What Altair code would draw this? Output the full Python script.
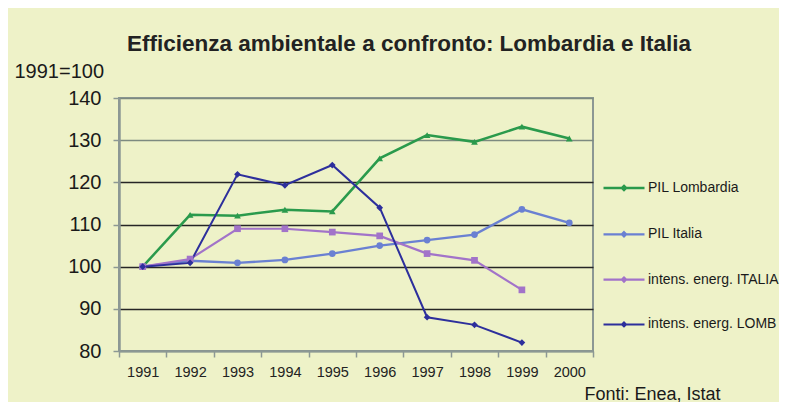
import altair as alt
import pandas as pd

anni = ["1991", "1992", "1993", "1994", "1995", "1996", "1997", "1998", "1999", "2000"]
serie = ["PIL Lombardia", "PIL Italia", "intens. energ. ITALIA", "intens. energ. LOMB"]
pil_lombardia = [100, 112.3, 112.1, 113.5, 113.1, 125.7, 131.2, 129.6, 133.2, 130.4]
pil_italia = [100, 101.4, 100.9, 101.6, 103.1, 105.0, 106.3, 107.6, 113.6, 110.4]
intens_italia = [100, 101.8, 109.0, 109.0, 108.2, 107.3, 103.1, 101.5, 94.5]
intens_lomb = [100, 100.9, 121.9, 119.3, 124.1, 114.0, 88.0, 86.2, 82.0]
colori = ["#2a9a4c", "#6a80d2", "#a273c9", "#2d2f9c"]
forme = ["triangle-up", "circle", "square", "diamond"]
spessori = [2.5, 2, 2.5, 3]
dimensioni = [45, 45, 20, 40]
y_ticks = [80, 90, 100, 110, 120, 130, 140]

marker_keys = ["m:" + s for s in serie]

rows = []
for nome, chiave, valori in zip(serie, marker_keys, [pil_lombardia, pil_italia, intens_italia, intens_lomb]):
    for a, v in zip(anni, valori):
        rows.append({"anno": a, "serie": nome, "marker": chiave, "valore": v})
df = pd.DataFrame(rows)

FONT = "Liberation Sans"
BG = "#eef2c8"
GREY = "#8c9894"
# legend symbol: a short line with a small marker in its middle
LEGEND_SYMBOL = "M-1,0H1M0,-0.1L0.1,0L0,0.1L-0.1,0Z"

x_enc = alt.X(
    "anno:N",
    sort=anni,
    scale=alt.Scale(type="band", paddingInner=0, paddingOuter=0),
    axis=alt.Axis(
        title="Fonti: Enea, Istat",
        titleX=465, titleY=48, titleAlign="left", titleBaseline="alphabetic",
        titleFontSize=18, titleFontWeight="normal", titleFont=FONT, titleColor="#1a1a1a",
        labelAngle=0, labelFontSize=14.5, labelFont=FONT, labelColor="#222",
        labelPadding=8, tickBand="extent", tickSize=6, tickColor=GREY, tickWidth=1.5,
        domainColor=GREY, domainWidth=2, grid=False,
    ),
)
y_enc = alt.Y(
    "valore:Q",
    scale=alt.Scale(domain=[80, 140], nice=False, zero=False),
    axis=alt.Axis(
        values=y_ticks,
        title="1991=100",
        titleAngle=0, titleX=-105, titleY=-21, titleAlign="left", titleBaseline="alphabetic",
        titleFontSize=20, titleFontWeight="normal", titleFont=FONT, titleColor="#1a1a1a",
        labelFontSize=20, labelFont=FONT, labelColor="#1a1a1a", labelPadding=12,
        tickSize=6, tickColor=GREY, tickWidth=1.5,
        domainColor=GREY, domainWidth=2.5,
        grid=True, gridWidth=1.3,
        gridColor=alt.condition("datum.value == 130 || datum.value == 140 || datum.value == 80",
                                alt.value("#7d8a80"), alt.value("#262626")),
    ),
)

lines = alt.Chart(df).mark_line().encode(
    x=x_enc,
    y=y_enc,
    color=alt.Color("serie:N", scale=alt.Scale(domain=serie, range=colori),
                    legend=alt.Legend(orient="none", legendX=483, legendY=68, title=None,
                                      symbolType=LEGEND_SYMBOL, symbolSize=1681,
                                      symbolStrokeWidth=2.5, labelOffset=2, rowPadding=16.3,
                                      labelFont=FONT, labelFontSize=14, labelColor="#1a1a1a")),
    strokeWidth=alt.StrokeWidth("serie:N", scale=alt.Scale(domain=serie, range=spessori), legend=None),
)

points = alt.Chart(df).mark_point(filled=True, opacity=1).encode(
    x=alt.X("anno:N", sort=anni),
    y="valore:Q",
    fill=alt.Fill("marker:N", scale=alt.Scale(domain=marker_keys, range=colori), legend=None),
    shape=alt.Shape("marker:N", scale=alt.Scale(domain=marker_keys, range=forme), legend=None),
    size=alt.Size("marker:N", scale=alt.Scale(domain=marker_keys, range=dimensioni), legend=None),
)

chart = alt.layer(lines, points).properties(
    width=474,
    height=253,
    autosize=alt.AutoSizeParams(type="none"),
    padding={"left": 111, "top": 90, "right": 186, "bottom": 51},
    background=BG,
    title=alt.TitleParams(
        "Efficienza ambientale a confronto: Lombardia e Italia",
        font=FONT, fontSize=22.5, fontWeight="bold", color="#222",
        anchor="middle", offset=6, dx=53,
    ),
).configure_view(stroke=GREY, strokeWidth=2, fill=BG)

chart.save("out.html", embed_options={"renderer": "svg", "actions": False})
